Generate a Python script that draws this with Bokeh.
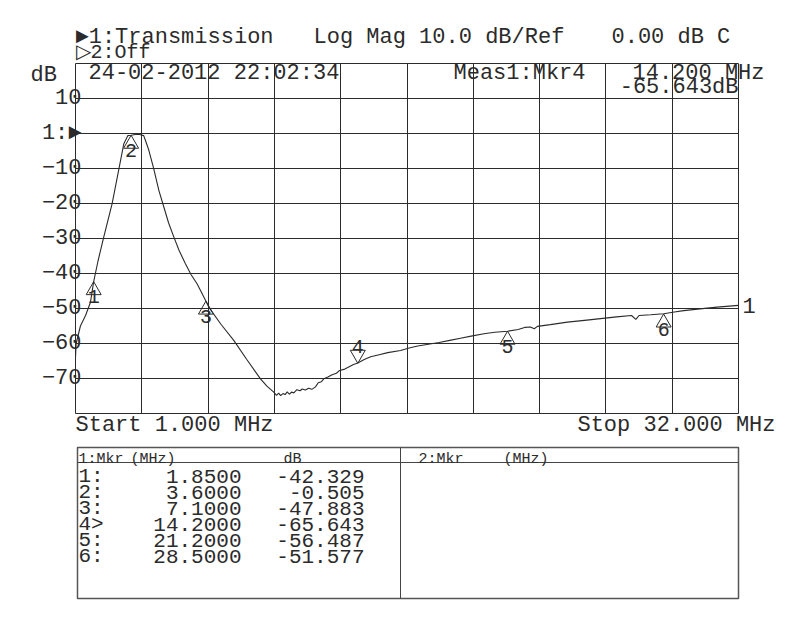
import numpy as np
from bokeh.plotting import figure
from bokeh.models import Range1d, FixedTicker, Label, LinearAxis, Grid
from bokeh.layouts import column
from bokeh.embed import file_html
from bokeh.resources import INLINE
from bokeh.core.properties import value

FONT = "Liberation Mono"
INK = "#2b2b2b"

# ---------------- data ----------------
trace_name = "Transmission"
timestamp = "24-02-2012 22:02:34"
f_start, f_stop = 1.0, 32.0
scale_db, ref_db = 10.0, 0.00
y_top, y_bottom = 20, -80
ytick_vals = [10, 0, -10, -20, -30, -40, -50, -60, -70]
ytick_text = {0: "1:\u25ba"}

freq_mhz = [1.0, 1.03, 1.23, 1.47, 1.7, 1.85, 2.05, 2.32, 2.71, 3.03, 3.26, 3.45, 3.6,
            3.8, 4.0, 4.19, 4.3, 4.43, 4.66, 4.9, 5.13, 5.35, 5.6, 5.85, 6.14, 6.4,
            6.69, 6.9, 7.1, 7.23, 7.8, 8.4, 9.0, 9.65, 9.95, 10.27, 10.4, 10.5, 10.59,
            10.7, 10.8, 10.9, 11.0, 11.1, 11.21, 11.35, 11.5, 11.6, 11.75, 11.9, 12.05,
            12.22, 12.35, 12.5, 12.61, 12.8, 13.0, 13.2, 13.35, 13.55, 13.75, 14.0, 14.2,
            14.5, 14.8, 15.2, 15.6, 16.2, 16.6, 17.0, 17.5, 18.0, 18.5, 19.0, 19.5, 20.1,
            20.6, 21.2, 21.7, 22.0, 22.27, 22.45, 22.6, 23.2, 24.0, 24.8, 25.55, 26.3,
            27.0, 27.2, 27.35, 27.9, 28.5, 29.0, 29.44, 30.2, 31.0, 32.0]
trace_db = [-64.0, -60.0, -55.0, -52.0, -48.2, -42.3, -36.5, -29.6, -20.1, -10.1, -2.9, -0.6, -0.5,
            -0.3, -0.3, -0.6, -2.5, -4.8, -10.1, -16.3, -21.0, -25.5, -29.6, -33.5, -37.2, -40.3,
            -43.0, -45.5, -47.9, -49.6, -54.5, -59.1, -64.5, -70.1, -72.2, -73.9, -74.8, -74.2, -74.9,
            -74.3, -74.6, -73.8, -74.5, -73.9, -74.1, -73.2, -73.5, -73.0, -73.3, -72.8, -73.1,
            -72.4, -71.2, -70.9, -70.1, -69.6, -68.9, -68.5, -67.7, -67.4, -66.8, -66.0, -65.6,
            -64.6, -63.8, -63.2, -62.6, -62.0, -61.3, -60.7, -60.2, -59.7, -59.1, -58.5, -57.9, -57.2,
            -56.8, -56.5, -56.0, -55.4, -55.3, -55.8, -55.1, -54.6, -53.9, -53.4, -52.9, -52.4,
            -52.0, -53.1, -52.0, -51.8, -51.5, -51.0, -50.6, -50.1, -49.6, -49.1]

mkr_id = ["1", "2", "3", "4", "5", "6"]
mkr_freq = [1.85, 3.6, 7.1, 14.2, 21.2, 28.5]
mkr_db = [-42.329, -0.505, -47.883, -65.643, -56.487, -51.577]
active_mkr = 3

# ---------------- layout geometry (pixels) ----------------
W = 800
CH = 440                      # chart figure height
TH = 180                      # table figure height
GL, GR, GT, GB = 75, 738, 63, 413   # graticule box
FL, FR, FT, FB = 8, 792, 8, 440     # drawing frame
sx = (GR - GL) / (f_stop - f_start)
sy = (GB - GT) / (y_top - y_bottom)

p = figure(width=W, height=CH,
           x_range=Range1d(f_start - (GL - FL) / sx, f_stop + (FR - GR) / sx),
           y_range=Range1d(y_bottom - (FB - GB) / sy, y_top + (GT - FT) / sy),
           x_axis_type=None, y_axis_type=None,
           output_backend="svg", toolbar_location=None,
           min_border_left=FL, min_border_right=W - FR,
           min_border_top=FT, min_border_bottom=CH - FB)
p.background_fill_color = "white"
p.border_fill_color = "white"
p.outline_line_color = None

xg = Grid(dimension=0, ticker=FixedTicker(ticks=list(np.linspace(f_start, f_stop, 11))),
          bounds=(f_start, f_stop), cross_bounds=(y_bottom, y_top),
          grid_line_color=INK, grid_line_width=1)
yg = Grid(dimension=1, ticker=FixedTicker(ticks=list(np.linspace(y_bottom, y_top, 11))),
          bounds=(y_bottom, y_top), cross_bounds=(f_start, f_stop),
          grid_line_color=INK, grid_line_width=1)
p.add_layout(xg)
p.add_layout(yg)

ax = LinearAxis(fixed_location=f_start, ticker=FixedTicker(ticks=ytick_vals),
                major_label_overrides=ytick_text)
ax.axis_line_color = None
ax.major_tick_line_color = None
ax.minor_tick_line_color = None
ax.major_tick_out = 0
ax.major_tick_in = 0
ax.major_label_standoff = -6
ax.major_label_text_font = FONT
ax.major_label_text_font_size = "22px"
ax.major_label_text_color = INK
p.add_layout(ax, "left")

p.line(freq_mhz, trace_db, line_color=INK, line_width=1.1)

# markers
tri_size = 15
apex_px = tri_size / 2 * np.sqrt(3) * 2 / 3
up_idx = [i for i in range(len(mkr_id)) if i != active_mkr]
p.scatter([mkr_freq[i] for i in up_idx],
          [mkr_db[i] - apex_px / sy for i in up_idx],
          marker="triangle", size=tri_size, fill_color=None, line_color=INK, line_width=1)
p.text([mkr_freq[i] for i in up_idx], [mkr_db[i] for i in up_idx],
       text=[mkr_id[i] for i in up_idx], y_offset=15, text_align="center",
       text_baseline="middle", text_font=value(FONT), text_font_size="20px",
       text_color=INK)
p.scatter([mkr_freq[active_mkr]], [mkr_db[active_mkr] + apex_px / sy],
          marker="inverted_triangle", size=tri_size, fill_color=None, line_color=INK, line_width=1)
p.text([mkr_freq[active_mkr]], [mkr_db[active_mkr]], text=[mkr_id[active_mkr]],
       y_offset=-17, text_align="center", text_baseline="middle",
       text_font=value(FONT), text_font_size="20px", text_color=INK)

BASE_FIX = 5  # Label alphabetic baseline correction (px)


def lab(fig, x, y, text, dx=0, dy=0, align="left", baseline="alphabetic", size="22px"):
    if baseline == "alphabetic":
        dy += BASE_FIX
    fig.add_layout(Label(x=x, y=y, x_offset=dx, y_offset=dy, text=text,
                         text_font=FONT, text_font_size=size, text_color=INK,
                         text_align=align, text_baseline=baseline))


# header and annotations (offsets in px from graticule corners)
lab(p, f_start, y_top, "\u25ba1:" + trace_name, dx=0, dy=21)
lab(p, f_start, y_top, f"Log Mag {scale_db:.1f} dB/Ref", dx=238, dy=21)
lab(p, f_start, y_top, f"{ref_db:.2f} dB C", dx=536, dy=21)
lab(p, f_start, y_top, "\u25b72:Off", dx=0, dy=6, size="20px")
lab(p, f_start, y_top, "dB", dx=-45, dy=-17)
lab(p, f_start, y_top, timestamp, dx=13, dy=-15)
lab(p, f_start, y_top, f"Meas1:Mkr{mkr_id[active_mkr]}", dx=378, dy=-15)
lab(p, f_start, y_top, f"{mkr_freq[active_mkr]:.3f} MHz", dx=557, dy=-15)
lab(p, f_stop, y_top, f"{mkr_db[active_mkr]:.3f}dB", dx=0, dy=-29, align="right")
lab(p, f_start, y_bottom, f"Start {f_start:.3f} MHz", dx=0, dy=-17)
lab(p, f_stop, y_bottom, f"Stop {f_stop:.3f} MHz", dx=37, dy=-17, align="right")
lab(p, f_stop, trace_db[-1], "1", dx=4, baseline="middle")

# ---------------- marker table (data units = page pixels) ----------------
t = figure(width=W, height=TH, x_range=Range1d(FL, FR), y_range=Range1d(CH + TH, CH),
           output_backend="svg", toolbar_location=None,
           min_border_left=FL, min_border_right=W - FR, min_border_top=0, min_border_bottom=0,
           x_axis_type=None, y_axis_type=None)
t.outline_line_color = None
t.background_fill_color = "white"
t.border_fill_color = "white"

t.quad(left=[77], right=[738], top=[447], bottom=[598], fill_color=None,
       line_color="#555555", line_width=1.5)
t.segment(x0=[77, 400], y0=[462, 447], x1=[738, 400], y1=[462, 598],
          line_color="#444444", line_width=1)

hdr_x = [78, 130, 283, 418, 503]
hdr_txt = ["1:Mkr", "(MHz)", "dB", "2:Mkr", "(MHz)"]
t.text(hdr_x, [459] * len(hdr_x), text=hdr_txt, text_font=value(FONT),
       text_font_size="15px", text_color=INK, text_baseline="alphabetic")

row_y = [476 + 16 * i for i in range(len(mkr_id))]
row_id = [m + (">" if i == active_mkr else ":") for i, m in enumerate(mkr_id)]
t.text([78] * len(row_id), row_y, text=row_id, text_font=value(FONT),
       text_font_size="21px", text_color=INK, text_baseline="alphabetic")
t.text([241] * len(row_id), row_y, text=[f"{f:.4f}" for f in mkr_freq],
       text_font=value(FONT), text_font_size="21px", text_color=INK,
       text_baseline="alphabetic", text_align="right")
t.text([364] * len(row_id), row_y, text=[f"{d:.3f}" for d in mkr_db],
       text_font=value(FONT), text_font_size="21px", text_color=INK,
       text_baseline="alphabetic", text_align="right")

layout = column(p, t, spacing=0)
open("out.html", "w").write(file_html(layout, INLINE))
